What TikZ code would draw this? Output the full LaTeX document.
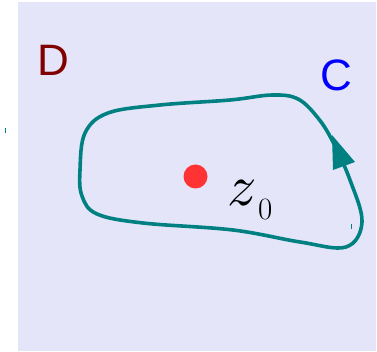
\documentclass[tikz,border=0pt]{standalone}
\usepackage{fontspec}
\newfontfamily\labelfont{Liberation Sans}
\newfontfamily\mathitfont{Latin Modern Math}
\definecolor{bgl}{RGB}{229,229,250}
\definecolor{tealc}{RGB}{0,128,128}
\definecolor{dotred}{RGB}{255,51,51}
\definecolor{dred}{RGB}{128,0,0}
\definecolor{cblue}{RGB}{0,0,255}
\tikzset{
  curve/.style={draw=tealc, line width=3.6pt},
  lbl/.style={inner sep=0pt, font=\labelfont\fontsize{44}{44}\selectfont},
}
\begin{document}
\begin{tikzpicture}[x=1pt,y=-1pt]
\useasboundingbox (0,0) rectangle (377,352);
\fill[bgl] (17.5,2.5) rectangle (375.5,350.5);
% contour
\draw[curve] plot[smooth cycle, tension=0.6] coordinates {
 (80,170) (85,133) (108,113) (160,105) (230,100) (272,95) (298,99)
 (318,118) (333,142) (350,180) (362,222) (346,247)
 (300,242) (233,230) (143,223) (97,214) (82,196)};
% arrow head
\fill[tealc] (332,135) -- (333,170) -- (355,162) -- cycle;
% tiny ticks
\draw[tealc, line width=0.9pt] (5,128) -- (5,133);
\draw[tealc, line width=0.9pt] (351,224) -- (351,229);
% point
\fill[dotred] (195.5,176.5) circle (12);
\node[anchor=base west, inner sep=0pt, font=\mathitfont\fontsize{58}{58}\selectfont] (z) at (227,206) {^^^^^^01d467};
\node[anchor=base west, inner sep=0pt, font=\fontsize{31}{31}\selectfont] (zs) at (258,220) {0};
\node[lbl, text=dred] (D) at (53,60) {D};
\node[lbl, text=cblue] (C) at (336,75) {C};
\end{tikzpicture}
\end{document}
